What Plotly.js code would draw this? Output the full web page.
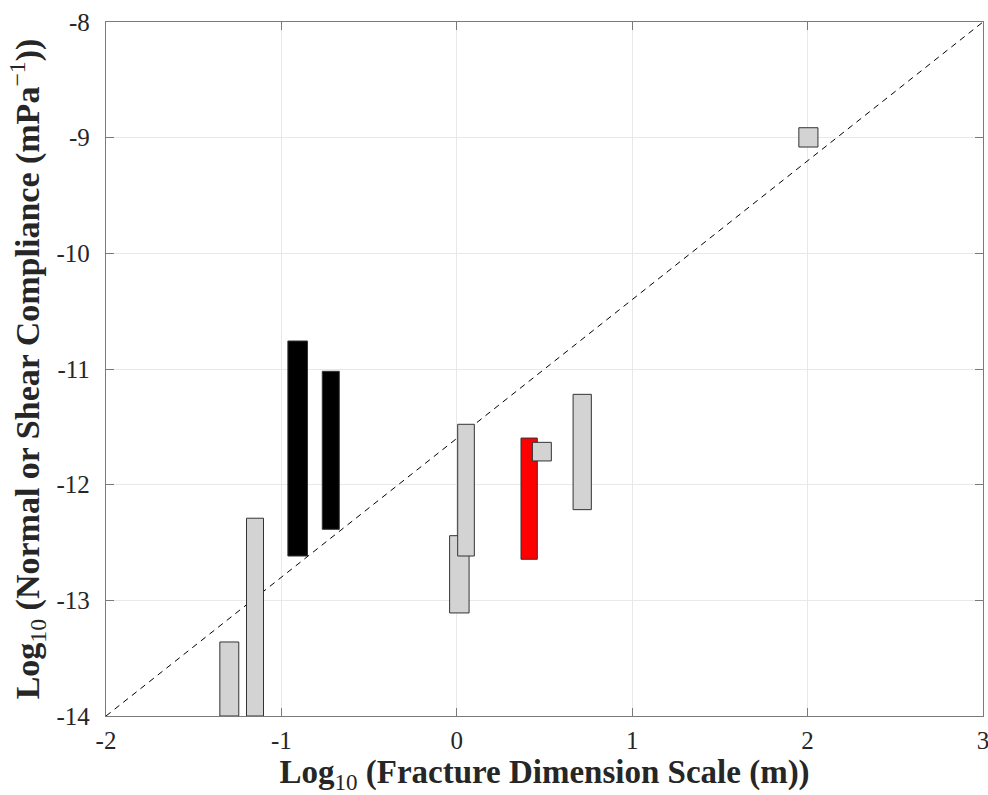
<!DOCTYPE html>
<html>
<head>
<meta charset="utf-8">
<script src="https://cdn.plot.ly/plotly-3.0.1.min.js"></script>
<style>html,body{margin:0;padding:0;background:#fff;}#chart{width:988px;height:795px;}</style>
</head>
<body>
<div id="chart"></div>
<script>
// Rectangles: log10 fracture dimension range (x) and log10 compliance range (y)
const boxX0 = [-1.351, -1.199, -0.963, -0.767, -0.041, 0.005, 0.366, 0.431, 0.663, 1.950];
const boxX1 = [-1.243, -1.102, -0.851, -0.670, 0.070, 0.100, 0.459, 0.539, 0.767, 2.059];
const boxY0 = [-14.00, -14.00, -12.617, -12.386, -13.109, -12.617, -12.645, -11.795, -12.216, -9.081];
const boxY1 = [-13.36, -12.29, -10.758, -11.020, -12.441, -11.478, -11.597, -11.634, -11.219, -8.914];
const boxGroup = ['gray','gray','black','black','gray','gray','red','gray','gray','gray'];
const groupColors = {gray: '#d3d3d3', black: '#000000', red: '#ff0000'};

// Reference trend line
const lineX = [-2, 3];
const lineY = [-14, -8];

const xTicks = [-2, -1, 0, 1, 2, 3];
const yTicks = [-14, -13, -12, -11, -10, -9, -8];

const traces = [{
  x: lineX, y: lineY, type: 'scatter', mode: 'lines',
  line: {color: '#000', width: 1, dash: '6px,5px'},
  hoverinfo: 'skip', showlegend: false
}];
for (let i = 0; i < boxX0.length; i++) {
  traces.push({
    x: [boxX0[i], boxX1[i], boxX1[i], boxX0[i], boxX0[i]],
    y: [boxY0[i], boxY0[i], boxY1[i], boxY1[i], boxY0[i]],
    type: 'scatter', mode: 'lines', fill: 'toself',
    fillcolor: groupColors[boxGroup[i]],
    line: {color: '#333', width: 1},
    showlegend: false, hoverinfo: 'skip'
  });
}

const fontFam = 'Liberation Serif';
function axisBase() {
  return {
    showline: true, mirror: 'ticks', linecolor: '#7a7a7a', linewidth: 1.2,
    ticks: 'inside', ticklen: 8, tickcolor: '#7a7a7a', tickwidth: 1,
    showgrid: true, gridcolor: '#e8e8e8', gridwidth: 1,
    zeroline: false, tickfont: {family: fontFam, size: 25, color: '#262626'},
    tickmode: 'array', ticklabeloverflow: 'allow'
  };
}

const layout = {
  width: 988, height: 795,
  font: {family: fontFam, size: 25, color: '#262626'},
  margin: {l: 106, r: 5, t: 22, b: 79},
  paper_bgcolor: '#fff', plot_bgcolor: '#fff',
  showlegend: false,
  xaxis: Object.assign(axisBase(), {
    range: [-2, 3], tickvals: xTicks, ticktext: xTicks.map(String),
    ticklabelstandoff: 2,
    title: {text: '<b>Log</b><sub>10</sub> <b>(Fracture Dimension Scale (m))</b>',
            font: {family: fontFam, size: 33, color: '#262626'}, standoff: 5}
  }),
  yaxis: Object.assign(axisBase(), {
    range: [-14, -8], tickvals: yTicks, ticktext: yTicks.map(String),
    ticklabelstandoff: 10,
    title: {text: '<b>Log</b><sub>10</sub> <b>(Normal or Shear Compliance (mPa</b><sup>−1</sup><b>))</b>',
            font: {family: fontFam, size: 34, color: '#262626'}, standoff: 6}
  })
};

Plotly.newPlot('chart', traces, layout, {displayModeBar: false, staticPlot: true});
</script>
</body>
</html>
